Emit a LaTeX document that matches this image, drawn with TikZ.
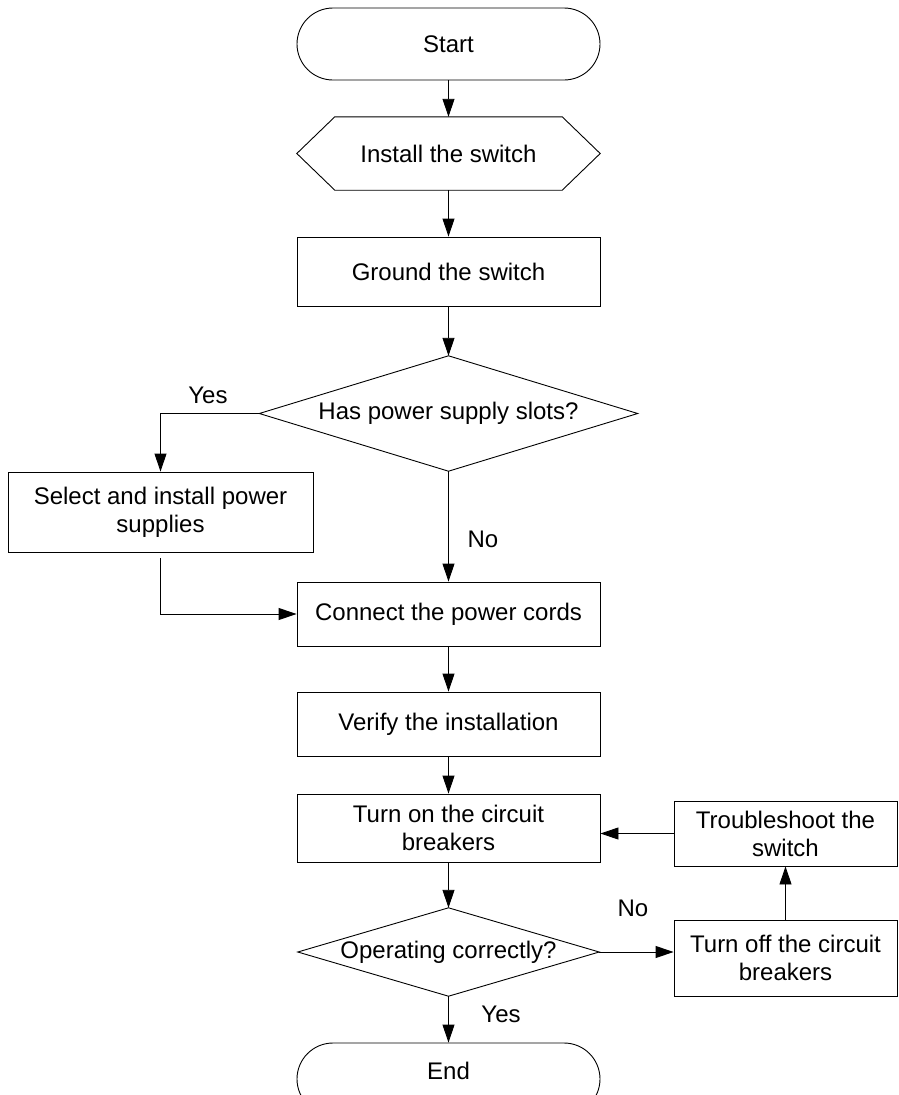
\documentclass[tikz,border=0pt]{standalone}
\usepackage{fontspec}
\setmainfont{Liberation Sans}
\usetikzlibrary{arrows.meta}
\begin{document}
\begin{tikzpicture}[x=1pt,y=-1pt,
  every node/.style={font=\fontsize{24}{28}\selectfont},
  box/.style={draw, line width=0.9pt, inner sep=0pt, align=center},
  ghost/.style={inner sep=0pt, align=center},
  arr/.style={line width=0.9pt, -{Triangle[length=18pt,width=12pt]}},
  lbl/.style={inner sep=0pt}]
\useasboundingbox (0,0) rectangle (899,1095);
\fill[white] (0,0) rectangle (899,1095);
% nodes
\node[box, rounded corners=36pt, minimum width=303pt, minimum height=72pt] (start) at (448.5,44) {Start};
\node[ghost, minimum width=303pt, minimum height=73pt] (install) at (448.5,153.5) {Install the switch};
\draw[line width=0.9pt] (install.west) -- ([xshift=38pt]install.north west) -- ([xshift=-38pt]install.north east) -- (install.east) -- ([xshift=-38pt]install.south east) -- ([xshift=38pt]install.south west) -- cycle;
\node[box, minimum width=303pt, minimum height=69pt] (ground) at (448.5,271.5) {Ground the switch};
\node[ghost, minimum width=378pt, minimum height=115pt] (d1) at (448.5,413.5) {Has power supply slots?};
\draw[line width=0.9pt] (d1.west) -- (d1.north) -- (d1.east) -- (d1.south) -- cycle;
\node[box, minimum width=305pt, minimum height=80pt] (select) at (160.5,512) {Select and install power\\supplies};
\node[box, minimum width=303pt, minimum height=64pt] (connect) at (448.5,614) {Connect the power cords};
\node[box, minimum width=303pt, minimum height=64pt] (verify) at (448.5,724) {Verify the installation};
\node[box, minimum width=303pt, minimum height=68pt] (turnon) at (448.5,828) {Turn on the circuit\\breakers};
\node[ghost, minimum width=301pt, minimum height=88pt] (d2) at (448.5,952) {Operating correctly?};
\draw[line width=0.9pt] (d2.west) -- (d2.north) -- (d2.east) -- (d2.south) -- cycle;
\node[box, rounded corners=36pt, minimum width=303pt, minimum height=72pt] (end) at (448.5,1079) {\raisebox{16pt}{End}};
\node[box, minimum width=223pt, minimum height=65pt] (trouble) at (785.5,833.5) {Troubleshoot the\\switch};
\node[box, minimum width=223pt, minimum height=76pt] (turnoff) at (785.5,958) {Turn off the circuit\\breakers};
% connectors
\draw[arr] (start) -- (install);
\draw[arr] (install) -- (ground);
\draw[arr] (ground) -- (d1.north);
\draw[arr] (d1.west) -| (select.north);
\draw[arr] (d1.south) -- (connect.north);
\draw[arr, shorten <=6pt] (select.south) |- (connect.west);
\draw[arr] (connect) -- (verify);
\draw[arr] (verify) -- (turnon);
\draw[arr] (turnon) -- (d2.north);
\draw[arr] (d2.south) -- (end.north);
\draw[arr] (d2.east) -- (d2.east -| turnoff.west);
\draw[arr] (turnoff) -- (trouble);
\draw[arr] (trouble.west) -- (trouble.west -| turnon.east);
% labels
\node[lbl] (yes1) at (208,395) {Yes};
\node[lbl] (no1) at (483,539) {No};
\node[lbl] (no2) at (633,908) {No};
\node[lbl] (yes2) at (501,1014) {Yes};
\end{tikzpicture}
\end{document}
